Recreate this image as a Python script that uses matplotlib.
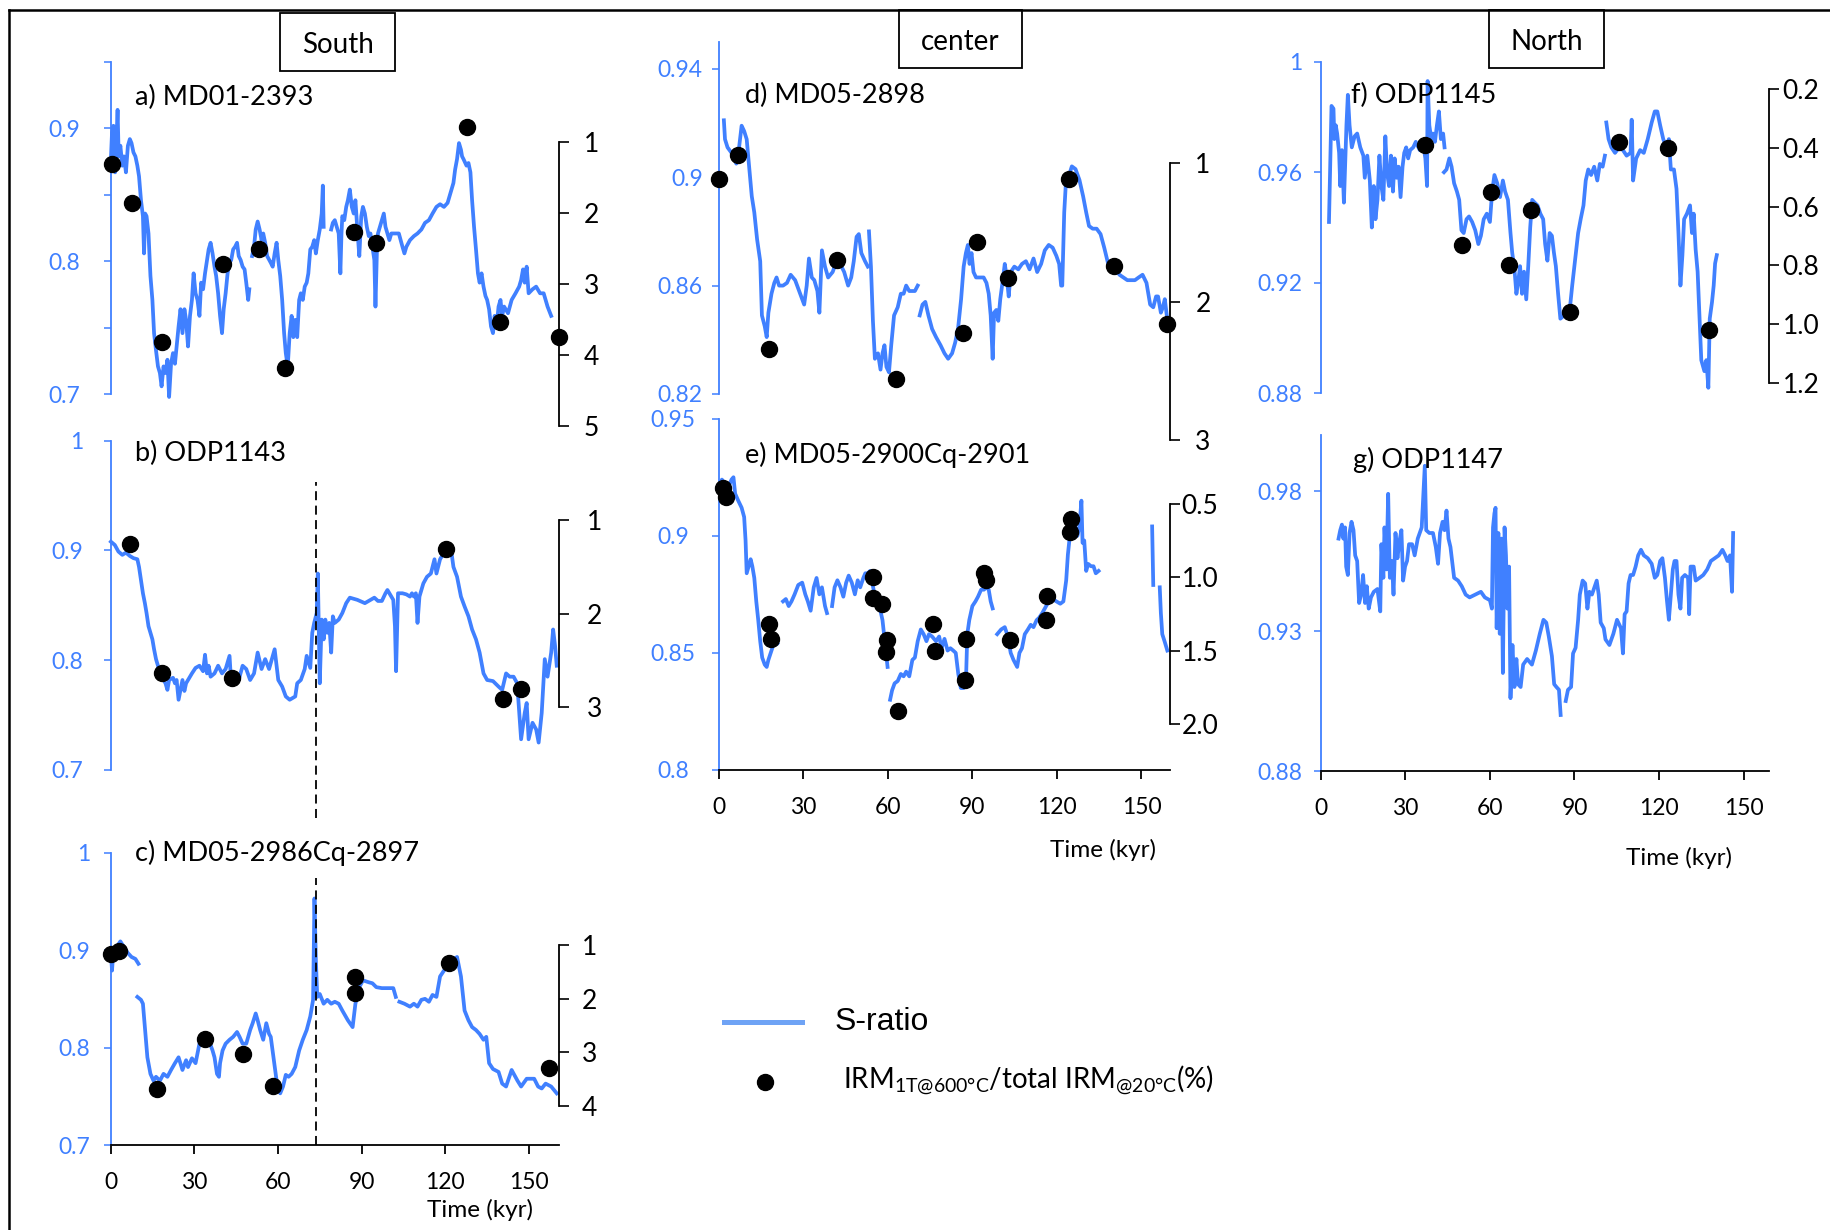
import numpy as np
import matplotlib
matplotlib.use("Agg")
import matplotlib.pyplot as plt
from matplotlib.lines import Line2D
from matplotlib.patches import Rectangle

plt.rcParams['font.family'] = ['Lato', 'DejaVu Sans']
plt.rcParams['mathtext.fontset'] = 'custom'
plt.rcParams['mathtext.rm'] = 'Lato'
plt.rcParams['mathtext.it'] = 'Lato'

W, H = 1831, 1230
BLUE = '#4080ff'
nan = np.nan

# S-ratio records (time kyr, S-ratio); nan = gap in the record
a_line = [(0.0, 0.877), (0.4, 0.897), (0.9, 0.902), (1.5, 0.867), (2.0, 0.892), (2.4, 0.914), (2.8, 0.879),
          (3.4, 0.887), (4.1, 0.872), (4.7, 0.879), (5.4, 0.867), (6.1, 0.887), (6.8, 0.892), (7.4, 0.889),
          (8.1, 0.882), (8.8, 0.879), (9.5, 0.872), (10.1, 0.864), (10.8, 0.846), (11.5, 0.834), (11.9, 0.806),
          (12.3, 0.836), (12.8, 0.834), (13.5, 0.821), (14.2, 0.789), (14.9, 0.771), (15.5, 0.746), (16.2, 0.733),
          (16.9, 0.721), (17.6, 0.716), (18.2, 0.706), (18.9, 0.721), (19.6, 0.716), (20.3, 0.726), (20.9, 0.698),
          (21.6, 0.723), (22.3, 0.731), (23.0, 0.723), (23.6, 0.736), (24.3, 0.751), (25.0, 0.764), (25.7, 0.746),
          (26.4, 0.764), (27.0, 0.756), (27.7, 0.736), (28.4, 0.759), (29.1, 0.771), (29.7, 0.791), (30.4, 0.776),
          (31.1, 0.771), (31.8, 0.759), (32.4, 0.784), (33.1, 0.779), (33.8, 0.791), (34.5, 0.801), (35.1, 0.809),
          (35.8, 0.814), (36.5, 0.806), (37.2, 0.796), (37.8, 0.789), (38.5, 0.776), (39.2, 0.759), (39.9, 0.746),
          (40.5, 0.764), (41.2, 0.776), (41.9, 0.791), (42.6, 0.799), (43.2, 0.801), (43.9, 0.809), (44.6, 0.811),
          (45.3, 0.814), (45.9, 0.804), (46.6, 0.801), (47.3, 0.796), (48.0, 0.794), (48.6, 0.784), (49.3, 0.771),
          (49.7, 0.779), (nan, nan), (50.7, 0.804), (51.4, 0.811), (52.0, 0.824), (52.7, 0.830), (53.4, 0.824),
          (54.1, 0.816), (54.7, 0.821), (55.4, 0.814), (56.1, 0.804), (57.4, 0.799), (58.1, 0.796), (58.8, 0.806),
          (59.5, 0.814), (60.1, 0.801), (60.8, 0.789), (61.5, 0.771), (62.2, 0.746), (62.8, 0.731), (63.5, 0.721),
          (64.2, 0.746), (64.9, 0.759), (65.5, 0.743), (66.2, 0.756), (66.9, 0.743), (67.6, 0.771), (68.2, 0.776),
          (68.9, 0.771), (69.6, 0.781), (70.3, 0.784), (70.9, 0.791), (71.6, 0.809), (72.3, 0.811), (73.0, 0.816),
          (73.6, 0.806), (74.3, 0.816), (75.0, 0.824), (75.7, 0.836), (76.1, 0.857), (76.4, 0.826), (nan, nan),
          (79.1, 0.824), (79.7, 0.829), (80.4, 0.831), (81.1, 0.826), (81.8, 0.821), (82.4, 0.791), (82.8, 0.821),
          (83.1, 0.834), (83.8, 0.831), (84.5, 0.841), (85.1, 0.846), (85.8, 0.854), (86.5, 0.841), (87.2, 0.836),
          (87.8, 0.846), (88.5, 0.824), (89.2, 0.804), (89.9, 0.834), (90.5, 0.841), (91.2, 0.836), (91.9, 0.826),
          (92.6, 0.819), (93.2, 0.821), (93.9, 0.811), (94.6, 0.801), (95.0, 0.766), (95.5, 0.806), (95.9, 0.821),
          (96.6, 0.826), (97.3, 0.831), (98.0, 0.836), (98.6, 0.826), (99.3, 0.821), (100.0, 0.816), (100.7, 0.821),
          (102.0, 0.821), (103.4, 0.821), (104.7, 0.811), (105.4, 0.806), (106.1, 0.811), (107.4, 0.816),
          (108.8, 0.819), (110.1, 0.821), (111.5, 0.824), (112.8, 0.829), (114.2, 0.831), (115.5, 0.836),
          (116.9, 0.841), (118.2, 0.843), (119.6, 0.841), (120.9, 0.844), (121.6, 0.849), (122.3, 0.854),
          (123.0, 0.859), (123.6, 0.869), (124.3, 0.877), (125.0, 0.889), (125.7, 0.884), (126.1, 0.879),
          (126.6, 0.877), (127.7, 0.872), (128.4, 0.874), (129.1, 0.867), (129.7, 0.846), (130.4, 0.826),
          (131.1, 0.809), (131.8, 0.791), (132.4, 0.784), (133.1, 0.791), (133.8, 0.781), (134.5, 0.774),
          (135.1, 0.771), (135.8, 0.764), (136.5, 0.751), (137.2, 0.746), (137.8, 0.759), (138.5, 0.751),
          (139.2, 0.766), (139.9, 0.771), (140.5, 0.759), (141.2, 0.766), (142.6, 0.761), (143.9, 0.771),
          (145.3, 0.776), (146.6, 0.781), (147.3, 0.786), (148.0, 0.794), (148.6, 0.784), (149.3, 0.796),
          (150.0, 0.776), (151.4, 0.779), (152.7, 0.781), (154.1, 0.776), (155.4, 0.776), (156.8, 0.766),
          (158.1, 0.759)]

b_line = [(0.0, 0.908), (1.4, 0.905), (2.7, 0.899), (4.1, 0.896), (5.4, 0.898), (6.8, 0.895), (8.1, 0.893),
          (9.5, 0.892), (10.1, 0.885), (10.8, 0.873), (11.5, 0.861), (12.2, 0.852), (12.8, 0.843), (13.5, 0.831),
          (14.2, 0.825), (14.9, 0.819), (15.5, 0.810), (16.2, 0.801), (16.9, 0.795), (17.6, 0.788), (18.2, 0.785),
          (19.6, 0.779), (20.3, 0.773), (20.9, 0.782), (22.3, 0.784), (23.0, 0.779), (23.6, 0.782), (24.3, 0.764),
          (25.0, 0.773), (25.7, 0.782), (26.4, 0.772), (27.0, 0.779), (27.7, 0.782), (29.1, 0.788), (30.4, 0.793),
          (31.8, 0.795), (33.1, 0.790), (33.8, 0.805), (34.5, 0.788), (35.1, 0.795), (35.8, 0.785), (37.2, 0.788),
          (38.5, 0.795), (39.9, 0.788), (41.2, 0.792), (42.6, 0.804), (43.2, 0.779), (44.6, 0.788), (45.9, 0.782),
          (47.3, 0.795), (48.6, 0.792), (50.0, 0.782), (51.4, 0.788), (52.7, 0.807), (54.1, 0.792), (55.4, 0.801),
          (56.8, 0.792), (58.8, 0.810), (60.1, 0.782), (61.5, 0.776), (62.8, 0.767), (64.2, 0.764), (66.2, 0.767),
          (66.9, 0.779), (68.2, 0.782), (69.6, 0.792), (70.3, 0.804), (71.6, 0.793), (72.3, 0.825), (73.0, 0.834),
          (73.9, 0.843), (74.3, 0.879), (75.0, 0.779), (75.7, 0.837), (76.4, 0.819), (77.0, 0.837), (77.7, 0.825),
          (78.4, 0.834), (79.1, 0.807), (79.7, 0.840), (80.4, 0.834), (81.8, 0.837), (83.1, 0.843), (84.5, 0.852),
          (85.8, 0.857), (88.5, 0.855), (91.2, 0.852), (93.2, 0.855), (94.6, 0.857), (95.9, 0.854), (97.3, 0.854),
          (98.6, 0.861), (99.3, 0.864), (100.7, 0.858), (101.4, 0.855), (102.0, 0.831), (102.4, 0.790),
          (103.1, 0.861), (104.7, 0.861), (106.1, 0.860), (107.4, 0.858), (108.1, 0.861), (108.8, 0.858),
          (109.5, 0.861), (110.1, 0.834), (110.8, 0.858), (112.2, 0.870), (113.5, 0.876), (114.9, 0.879),
          (116.2, 0.892), (116.9, 0.879), (118.2, 0.892), (119.6, 0.898), (120.9, 0.901), (122.3, 0.898),
          (123.0, 0.885), (124.3, 0.876), (125.7, 0.858), (127.0, 0.849), (128.4, 0.840), (129.7, 0.828),
          (131.1, 0.819), (132.4, 0.807), (133.8, 0.788), (135.1, 0.782), (137.2, 0.781), (139.2, 0.776),
          (140.5, 0.773), (141.9, 0.788), (143.2, 0.785), (144.6, 0.785), (145.9, 0.779), (147.3, 0.728),
          (148.6, 0.752), (149.3, 0.761), (150.0, 0.728), (151.4, 0.743), (152.7, 0.737), (153.6, 0.725),
          (154.7, 0.752), (155.8, 0.801), (156.8, 0.785), (158.1, 0.807), (158.8, 0.828), (159.5, 0.813),
          (160.1, 0.795)]

c_line = [(0.0, 0.897), (0.4, 0.879), (0.9, 0.900), (2.0, 0.903), (3.4, 0.909), (4.7, 0.903), (6.1, 0.897),
          (7.4, 0.893), (8.8, 0.891), (9.9, 0.886), (nan, nan), (9.5, 0.852), (10.8, 0.849), (11.5, 0.845),
          (12.2, 0.821), (13.1, 0.790), (14.2, 0.773), (15.3, 0.766), (16.2, 0.770), (17.6, 0.766), (18.9, 0.773),
          (20.3, 0.770), (21.6, 0.777), (23.0, 0.784), (24.3, 0.790), (25.7, 0.777), (27.0, 0.787), (27.7, 0.780),
          (29.1, 0.789), (30.4, 0.784), (31.8, 0.804), (32.4, 0.808), (33.8, 0.804), (35.1, 0.808), (36.5, 0.797),
          (37.2, 0.790), (38.1, 0.773), (38.8, 0.770), (39.2, 0.784), (40.1, 0.797), (41.2, 0.804), (42.6, 0.808),
          (43.9, 0.811), (45.3, 0.816), (46.2, 0.811), (47.3, 0.804), (48.6, 0.804), (50.0, 0.818), (50.9, 0.825),
          (52.0, 0.835), (52.7, 0.828), (53.6, 0.818), (54.7, 0.808), (55.8, 0.825), (56.8, 0.814), (57.4, 0.811),
          (58.5, 0.787), (59.5, 0.766), (60.8, 0.753), (61.8, 0.760), (62.8, 0.772), (63.8, 0.770), (64.9, 0.773),
          (66.2, 0.780), (67.6, 0.797), (68.9, 0.808), (70.3, 0.818), (71.6, 0.832), (72.6, 0.849), (73.1, 0.953),
          (73.6, 0.890), (74.1, 0.852), (75.0, 0.855), (76.4, 0.845), (77.7, 0.849), (79.1, 0.845), (80.4, 0.847),
          (81.8, 0.845), (83.1, 0.838), (85.1, 0.828), (86.8, 0.821), (87.8, 0.845), (89.2, 0.862), (90.5, 0.869),
          (92.6, 0.867), (93.9, 0.866), (95.3, 0.862), (97.3, 0.861), (99.3, 0.861), (101.4, 0.861),
          (102.3, 0.852), (nan, nan), (103.6, 0.847), (105.4, 0.845), (107.4, 0.842), (108.8, 0.845),
          (110.1, 0.842), (111.5, 0.849), (112.8, 0.850), (114.2, 0.847), (115.5, 0.854), (116.9, 0.852),
          (118.2, 0.873), (119.6, 0.879), (120.9, 0.883), (122.9, 0.890), (124.3, 0.893), (125.7, 0.873),
          (127.0, 0.838), (128.4, 0.828), (129.7, 0.821), (131.1, 0.818), (132.4, 0.814), (133.8, 0.808),
          (134.8, 0.811), (135.8, 0.784), (137.2, 0.778), (139.2, 0.775), (140.5, 0.763), (141.9, 0.760),
          (143.9, 0.777), (146.0, 0.766), (147.3, 0.760), (149.3, 0.768), (152.0, 0.768), (153.4, 0.760),
          (154.7, 0.758), (156.1, 0.763), (158.1, 0.760), (160.1, 0.753)]

d_line = [(1.8, 0.921), (2.2, 0.914), (3.1, 0.911), (4.5, 0.909), (5.4, 0.908), (6.2, 0.905), (7.2, 0.911),
          (8.1, 0.919), (9.0, 0.917), (9.9, 0.914), (10.6, 0.906), (11.7, 0.893), (12.6, 0.887), (13.6, 0.877),
          (14.7, 0.869), (15.3, 0.849), (16.3, 0.845), (17.0, 0.841), (17.6, 0.850), (18.7, 0.857), (19.7, 0.861),
          (20.5, 0.863), (21.4, 0.860), (22.8, 0.860), (24.2, 0.861), (25.5, 0.864), (27.1, 0.862), (28.9, 0.857),
          (30.3, 0.853), (31.2, 0.860), (32.0, 0.870), (33.0, 0.863), (33.9, 0.862), (35.0, 0.858), (35.7, 0.850),
          (36.6, 0.873), (37.7, 0.867), (38.8, 0.863), (40.4, 0.865), (41.8, 0.869), (43.1, 0.868), (44.5, 0.865),
          (45.9, 0.860), (47.0, 0.863), (47.9, 0.869), (48.9, 0.878), (49.7, 0.879), (50.6, 0.872), (51.9, 0.869),
          (52.9, 0.867), (nan, nan), (53.3, 0.880), (54.0, 0.867), (54.7, 0.847), (55.4, 0.833), (56.5, 0.835),
          (57.4, 0.829), (58.1, 0.835), (58.8, 0.838), (59.5, 0.830), (60.4, 0.828), (61.2, 0.838), (62.2, 0.849),
          (63.5, 0.852), (64.6, 0.857), (65.6, 0.857), (66.5, 0.860), (67.6, 0.858), (68.7, 0.858), (69.6, 0.858),
          (70.6, 0.860), (nan, nan), (71.3, 0.849), (72.3, 0.853), (73.3, 0.854), (74.4, 0.849), (75.7, 0.844),
          (77.1, 0.841), (78.7, 0.838), (80.1, 0.835), (81.4, 0.833), (82.8, 0.835), (83.9, 0.839), (84.9, 0.844),
          (86.0, 0.855), (86.9, 0.867), (87.7, 0.872), (88.4, 0.875), (89.0, 0.868), (89.7, 0.872), (90.4, 0.865),
          (91.3, 0.863), (92.7, 0.863), (94.0, 0.863), (95.0, 0.861), (95.8, 0.857), (96.5, 0.849), (97.2, 0.833),
          (97.7, 0.850), (98.5, 0.851), (99.2, 0.847), (99.9, 0.855), (100.8, 0.862), (101.5, 0.868),
          (102.2, 0.863), (102.9, 0.856), (103.6, 0.865), (104.9, 0.867), (106.3, 0.866), (107.6, 0.868),
          (109.0, 0.869), (110.3, 0.866), (111.7, 0.870), (113.0, 0.865), (114.4, 0.868), (115.7, 0.873),
          (117.1, 0.875), (118.5, 0.874), (119.8, 0.871), (120.8, 0.868), (121.5, 0.860), (121.9, 0.860),
          (122.6, 0.887), (123.3, 0.900), (124.4, 0.901), (125.3, 0.904), (126.6, 0.903), (128.0, 0.899),
          (129.3, 0.893), (130.4, 0.887), (131.4, 0.882), (132.7, 0.881), (134.1, 0.881), (135.5, 0.879),
          (136.8, 0.874), (138.2, 0.868), (139.5, 0.867), (140.9, 0.866), (142.2, 0.864), (143.6, 0.863),
          (145.0, 0.862), (146.3, 0.862), (147.7, 0.862), (149.0, 0.863), (150.4, 0.864), (151.8, 0.861),
          (153.1, 0.853), (154.2, 0.852), (155.2, 0.856), (155.9, 0.856), (156.9, 0.850), (157.6, 0.852),
          (158.3, 0.855), (159.0, 0.849)]

e_line = [(0.0, 0.921), (1.1, 0.924), (2.4, 0.922), (3.5, 0.921), (4.5, 0.924), (5.2, 0.925), (5.8, 0.918),
          (6.9, 0.915), (8.1, 0.912), (9.0, 0.908), (9.5, 0.898), (9.9, 0.884), (10.6, 0.887), (11.3, 0.890),
          (11.9, 0.887), (12.6, 0.882), (13.3, 0.872), (14.0, 0.864), (14.7, 0.855), (15.4, 0.848), (16.3, 0.845),
          (17.0, 0.844), (17.6, 0.847), (18.7, 0.851), (19.8, 0.855), (20.8, 0.854), (nan, nan), (22.8, 0.872),
          (23.8, 0.873), (24.8, 0.870), (25.8, 0.872), (26.9, 0.875), (28.2, 0.879), (29.6, 0.880), (30.7, 0.875),
          (31.6, 0.872), (32.6, 0.868), (33.7, 0.878), (34.7, 0.882), (35.7, 0.875), (36.6, 0.878), (37.7, 0.870),
          (38.4, 0.867), (nan, nan), (40.2, 0.870), (41.1, 0.878), (42.1, 0.881), (43.2, 0.878), (44.2, 0.874),
          (45.2, 0.880), (46.1, 0.883), (47.2, 0.880), (48.3, 0.875), (49.3, 0.881), (50.2, 0.878), (51.3, 0.882),
          (52.0, 0.884), (52.9, 0.884), (53.7, 0.885), (55.4, 0.874), (57.0, 0.870), (58.1, 0.864), (59.2, 0.852),
          (59.9, 0.844), (nan, nan), (60.8, 0.830), (61.5, 0.834), (62.4, 0.837), (63.5, 0.838), (64.6, 0.841),
          (65.6, 0.840), (66.5, 0.842), (67.6, 0.840), (68.7, 0.847), (69.6, 0.848), (70.6, 0.855), (71.7, 0.860),
          (72.7, 0.858), (73.7, 0.855), (74.6, 0.858), (75.7, 0.857), (77.1, 0.855), (78.2, 0.857), (79.1, 0.852),
          (80.1, 0.856), (81.2, 0.851), (82.2, 0.852), (83.2, 0.851), (84.1, 0.850), (85.0, 0.841), (85.9, 0.835),
          (86.9, 0.835), (87.7, 0.837), (88.2, 0.858), (88.9, 0.864), (90.0, 0.870), (91.1, 0.872), (92.0, 0.874),
          (93.1, 0.877), (94.1, 0.877), (95.0, 0.878), (95.8, 0.877), (96.5, 0.872), (97.2, 0.869), (nan, nan),
          (98.8, 0.858), (100.2, 0.860), (101.5, 0.861), (102.6, 0.857), (103.6, 0.850), (104.6, 0.847),
          (105.9, 0.844), (106.7, 0.850), (107.6, 0.852), (108.6, 0.858), (109.7, 0.860), (110.7, 0.862),
          (111.7, 0.861), (112.8, 0.864), (113.7, 0.865), (114.8, 0.867), (116.2, 0.870), (117.1, 0.872),
          (118.5, 0.873), (119.8, 0.872), (121.2, 0.871), (122.3, 0.872), (123.3, 0.881), (123.9, 0.892),
          (124.6, 0.900), (125.3, 0.904), (126.2, 0.905), (127.3, 0.900), (128.0, 0.904), (128.7, 0.915),
          (129.1, 0.897), (129.7, 0.898), (130.4, 0.885), (131.1, 0.888), (132.1, 0.887), (133.0, 0.887),
          (133.8, 0.884), (134.8, 0.885), (nan, nan), (153.8, 0.904), (154.2, 0.879), (nan, nan),
          (156.5, 0.878), (156.9, 0.867), (157.4, 0.858), (158.2, 0.855), (159.2, 0.851)]

f_line = [(2.9, 0.942), (3.4, 0.965), (3.8, 0.984), (4.5, 0.983), (4.8, 0.972), (5.3, 0.977), (5.8, 0.974),
          (6.5, 0.967), (6.9, 0.955), (7.5, 0.968), (8.2, 0.949), (8.6, 0.962), (9.1, 0.977), (9.6, 0.988),
          (10.2, 0.977), (11.0, 0.969), (12.0, 0.973), (12.9, 0.974), (14.0, 0.969), (15.1, 0.966), (15.6, 0.958),
          (16.5, 0.966), (17.4, 0.957), (18.1, 0.940), (18.8, 0.955), (19.4, 0.943), (20.1, 0.950), (20.8, 0.966),
          (21.5, 0.955), (22.2, 0.950), (22.9, 0.973), (23.5, 0.960), (24.2, 0.955), (24.9, 0.966), (25.6, 0.953),
          (26.2, 0.965), (26.9, 0.958), (27.6, 0.962), (28.3, 0.951), (29.0, 0.962), (29.6, 0.967), (30.3, 0.969),
          (31.0, 0.965), (31.7, 0.968), (32.8, 0.969), (33.7, 0.971), (35.1, 0.968), (36.2, 0.971), (37.1, 0.965),
          (37.7, 0.955), (37.9, 0.993), (38.5, 0.977), (39.2, 0.972), (39.8, 0.974), (40.5, 0.971), (41.2, 0.977),
          (41.9, 0.982), (42.6, 0.972), (43.4, 0.974), (43.9, 0.969), (nan, nan), (43.7, 0.960), (44.6, 0.961),
          (45.6, 0.965), (46.4, 0.962), (47.3, 0.956), (48.3, 0.953), (49.1, 0.950), (49.9, 0.939), (50.7, 0.938),
          (51.7, 0.943), (52.6, 0.944), (53.7, 0.942), (54.8, 0.939), (55.9, 0.934), (56.8, 0.937), (57.8, 0.943),
          (58.9, 0.945), (60.0, 0.942), (60.8, 0.953), (61.6, 0.959), (62.6, 0.956), (63.6, 0.951), (64.6, 0.957),
          (65.4, 0.953), (66.4, 0.950), (67.3, 0.938), (67.9, 0.931), (68.7, 0.925), (69.4, 0.916), (70.0, 0.920),
          (70.7, 0.926), (71.4, 0.916), (72.1, 0.924), (72.9, 0.914), (73.6, 0.926), (74.3, 0.940), (75.0, 0.950),
          (75.9, 0.949), (76.9, 0.948), (77.9, 0.945), (78.9, 0.943), (79.6, 0.934), (80.4, 0.928), (81.2, 0.938),
          (82.0, 0.937), (82.7, 0.931), (83.4, 0.926), (84.2, 0.916), (85.0, 0.907), (86.1, 0.908), (87.2, 0.909),
          (88.3, 0.910), (89.2, 0.919), (90.2, 0.928), (91.3, 0.938), (92.2, 0.943), (93.2, 0.948), (94.0, 0.957),
          (94.9, 0.961), (95.9, 0.959), (97.0, 0.962), (98.1, 0.957), (99.0, 0.963), (100.0, 0.962),
          (100.8, 0.966), (nan, nan), (101.3, 0.978), (102.1, 0.972), (103.1, 0.969), (104.4, 0.967),
          (105.8, 0.969), (107.2, 0.968), (108.5, 0.966), (109.9, 0.967), (110.3, 0.979), (110.8, 0.957),
          (111.9, 0.965), (113.3, 0.968), (114.6, 0.967), (116.0, 0.972), (117.4, 0.978), (118.5, 0.982),
          (119.4, 0.982), (120.4, 0.977), (121.5, 0.972), (122.6, 0.969), (123.5, 0.972), (124.2, 0.961),
          (125.3, 0.961), (126.2, 0.954), (126.9, 0.938), (127.6, 0.919), (128.3, 0.930), (128.9, 0.943),
          (129.9, 0.945), (131.0, 0.948), (131.7, 0.938), (132.3, 0.945), (133.0, 0.932), (133.7, 0.924),
          (134.4, 0.907), (135.0, 0.892), (136.1, 0.888), (136.8, 0.892), (137.5, 0.882), (138.0, 0.907),
          (138.8, 0.913), (139.4, 0.919), (139.9, 0.927), (140.5, 0.930)]

g_line = [(6.3, 0.963), (6.9, 0.966), (7.5, 0.968), (8.0, 0.963), (8.6, 0.967), (9.0, 0.953), (9.6, 0.950),
          (10.2, 0.965), (10.9, 0.969), (11.6, 0.966), (12.2, 0.957), (12.9, 0.955), (13.6, 0.940), (14.3, 0.943),
          (15.0, 0.950), (15.7, 0.940), (16.3, 0.946), (17.0, 0.938), (17.8, 0.942), (18.8, 0.944), (20.1, 0.945),
          (21.1, 0.937), (21.5, 0.961), (22.2, 0.949), (22.6, 0.967), (23.3, 0.952), (23.9, 0.979), (24.5, 0.949),
          (25.2, 0.955), (25.8, 0.943), (26.5, 0.965), (27.2, 0.956), (27.9, 0.962), (28.6, 0.966), (29.2, 0.948),
          (29.9, 0.953), (30.6, 0.955), (31.3, 0.961), (32.4, 0.961), (33.3, 0.957), (34.4, 0.963), (35.8, 0.967),
          (36.4, 0.979), (36.9, 0.989), (37.4, 0.966), (38.5, 0.965), (39.8, 0.965), (40.8, 0.960), (41.6, 0.954),
          (42.3, 0.965), (43.2, 0.969), (43.9, 0.966), (44.6, 0.973), (45.3, 0.963), (46.0, 0.960), (46.6, 0.955),
          (47.3, 0.949), (48.7, 0.948), (50.0, 0.946), (51.4, 0.943), (52.8, 0.942), (54.8, 0.943), (56.8, 0.944),
          (58.2, 0.942), (60.0, 0.941), (60.7, 0.938), (61.1, 0.967), (61.6, 0.972), (62.0, 0.974), (62.4, 0.931),
          (63.0, 0.965), (63.5, 0.929), (64.1, 0.963), (64.6, 0.915), (65.2, 0.967), (65.7, 0.957), (66.2, 0.938),
          (66.8, 0.953), (67.3, 0.906), (68.0, 0.925), (68.7, 0.910), (69.4, 0.920), (70.0, 0.911), (70.9, 0.910),
          (71.8, 0.918), (73.2, 0.920), (74.9, 0.918), (76.3, 0.923), (77.7, 0.929), (79.0, 0.934), (80.0, 0.933),
          (80.9, 0.928), (82.0, 0.921), (82.8, 0.911), (83.6, 0.910), (84.5, 0.909), (85.1, 0.900), (nan, nan),
          (86.9, 0.905), (87.7, 0.909), (88.8, 0.910), (89.5, 0.922), (90.4, 0.924), (91.3, 0.934), (91.9, 0.943),
          (92.9, 0.948), (93.8, 0.947), (94.6, 0.938), (95.3, 0.944), (96.2, 0.943), (97.2, 0.946), (97.9, 0.948),
          (98.6, 0.943), (99.3, 0.933), (100.4, 0.931), (101.0, 0.927), (102.4, 0.925), (103.8, 0.929),
          (105.1, 0.934), (106.5, 0.931), (107.2, 0.922), (107.8, 0.936), (108.5, 0.937), (109.2, 0.947),
          (109.9, 0.950), (110.8, 0.950), (111.7, 0.953), (112.6, 0.957), (113.6, 0.959), (114.6, 0.957),
          (116.0, 0.956), (117.4, 0.954), (118.5, 0.949), (119.4, 0.950), (120.4, 0.955), (121.2, 0.956),
          (122.1, 0.949), (122.8, 0.941), (123.5, 0.934), (124.2, 0.943), (124.9, 0.952), (125.5, 0.955),
          (126.2, 0.955), (126.9, 0.943), (127.6, 0.938), (128.2, 0.949), (129.2, 0.950), (130.3, 0.949),
          (130.7, 0.936), (131.2, 0.953), (132.3, 0.953), (133.0, 0.948), (134.4, 0.949), (135.7, 0.950),
          (137.1, 0.952), (138.4, 0.955), (139.8, 0.956), (141.2, 0.957), (142.5, 0.959), (143.5, 0.957),
          (144.3, 0.955), (145.2, 0.957), (145.9, 0.944), (146.3, 0.965)]

# IRM1T@600C / total IRM@20C (%) samples (time kyr, percent)
a_pts = [(0.4, 1.30), (7.4, 1.85), (18.5, 3.82), (40.1, 2.72), (53.3, 2.51), (62.5, 4.18), (87.2, 2.27),
         (95.3, 2.42), (127.9, 0.79), (139.8, 3.53), (161.0, 3.74)]
b_pts = [(6.8, 1.26), (18.2, 2.63), (43.6, 2.69), (120.5, 1.31), (140.9, 2.91), (147.4, 2.80)]
c_pts = [(0.0, 1.16), (3.0, 1.12), (16.6, 3.69), (33.8, 2.76), (47.6, 3.03), (58.1, 3.63), (87.6, 1.59),
         (87.6, 1.89), (121.4, 1.34), (157.4, 3.30)]
d_pts = [(0.0, 1.11), (6.7, 0.94), (17.9, 2.34), (42.1, 1.70), (62.8, 2.56), (86.6, 2.23), (91.7, 1.57),
         (102.5, 1.83), (124.2, 1.11), (140.1, 1.74), (159.2, 2.16)]
e_pts = [(1.4, 0.39), (2.4, 0.45), (17.8, 1.32), (18.7, 1.42), (54.7, 1.00), (54.7, 1.14), (57.8, 1.18),
         (59.7, 1.43), (59.4, 1.51), (63.5, 1.91), (76.0, 1.32), (76.8, 1.50), (87.5, 1.70), (87.9, 1.42),
         (94.2, 0.97), (94.7, 1.02), (103.2, 1.43), (116.4, 1.13), (116.2, 1.29), (124.9, 0.60), (124.6, 0.69)]
f_pts = [(37.1, 0.39), (50.0, 0.73), (60.5, 0.55), (66.6, 0.80), (74.7, 0.61), (88.3, 0.96), (105.7, 0.38),
         (123.2, 0.40), (137.6, 1.02)]

time_ticks = [0, 30, 60, 90, 120, 150]
event_age = 73.6  # dashed line in b and c

fig = plt.figure(figsize=(W / 100, H / 100), dpi=100)


def box(left, top, right, bottom):
    """axes placed by pixel edges of the 1831x1230 canvas"""
    return fig.add_axes([left / W, 1 - bottom / H, (right - left) / W, (bottom - top) / H])


def sratio_axes(rect, xmax, ylim, ticks, labels, pad, line, xaxis=False, ha='right'):
    ax = box(*rect)
    ax.set_xlim(0, xmax)
    ax.set_ylim(*ylim)
    ax.patch.set_visible(False)
    ax.spines['top'].set_visible(False)
    ax.spines['right'].set_visible(False)
    ax.spines['left'].set_color(BLUE)
    ax.spines['left'].set_linewidth(1.3)
    ax.set_yticks(ticks)
    ax.set_yticklabels(labels)
    ax.tick_params(axis='y', colors=BLUE, length=5, width=1.1, labelsize=16.5, pad=pad)
    for lab in ax.get_yticklabels():
        lab.set_ha(ha)
    if xaxis:
        ax.spines['bottom'].set_linewidth(1.3)
        ax.set_xticks(time_ticks)
        ax.tick_params(axis='x', length=6.5, width=1.3, labelsize=16.5, pad=13)
    else:
        ax.spines['bottom'].set_visible(False)
        ax.set_xticks([])
    t, v = np.array(line).T
    ax.plot(t, v, color=BLUE, lw=2.7, clip_on=False)
    return ax


def irm_axes(rect, xmax, ylim, ticks, labels, pad, pts):
    rx = box(*rect)
    rx.set_xlim(0, xmax)
    rx.set_ylim(*ylim)
    rx.patch.set_visible(False)
    for s in ('top', 'left', 'bottom'):
        rx.spines[s].set_visible(False)
    rx.spines['right'].set_linewidth(1.3)
    rx.set_xticks([])
    rx.yaxis.tick_right()
    rx.set_yticks(ticks)
    rx.set_yticklabels(labels)
    rx.tick_params(axis='y', length=7.5, width=1.2, labelsize=19, pad=pad)
    t, v = np.array(pts).T
    rx.plot(t, v, 'o', color='black', ms=11.5, clip_on=False, zorder=5)
    return rx


# column extents in pixels: left spine, right spine, and kyr at right spine
L1, R1, X1 = 110.9, 558.7, 160.8
L2, R2, X2 = 718.8, 1169.6, 160.0
L3, R3, X3 = 1320.8, 1769.5, 159.2

# South column
sratio_axes((L1, 62, R1, 394.3), X1, (0.7, 0.95), [0.7, 0.75, 0.8, 0.85, 0.9, 0.95],
            ['0.7', '', '0.8', '', '0.9', ''], 17, a_line)
irm_axes((L1, 142.3, R1, 426), X1, (5, 1), [1, 2, 3, 4, 5], ['1', '2', '3', '4', '5'], 10.5, a_pts)

ax_b = sratio_axes((L1, 440.7, R1, 770), X1, (0.7, 1.0), [0.7, 0.8, 0.9, 1.0],
                   ['0.7', '0.8', '0.9', '1'], 15, b_line)
irm_axes((L1, 520, R1, 707.3), X1, (3, 1), [1, 2, 3], ['1', '2', '3'], 13, b_pts)
ax_b.axvline(event_age, ymin=-0.146, ymax=0.876, color='black', lw=1.3, ls=(0, (5, 3)), clip_on=False)

ax_c = sratio_axes((L1, 852.7, R1, 1145), X1, (0.7, 1.0), [0.7, 0.8, 0.9, 1.0],
                   ['0.7', '0.8', '0.9', '1'], 10, c_line, xaxis=True)
irm_axes((L1, 945, R1, 1105.7), X1, (4, 1), [1, 2, 3, 4], ['1', '2', '3', '4'], 9, c_pts)
ax_c.axvline(event_age, ymin=0, ymax=0.913, color='black', lw=1.3, ls=(0, (5, 3)), clip_on=False)

# center column
sratio_axes((L2, 41.7, R2, 394), X2, (0.82, 0.95), [0.82, 0.86, 0.9, 0.94],
            ['0.82', '0.86', '0.9', '0.94'], 6.5, d_line)
irm_axes((L2, 163.3, R2, 440), X2, (3, 1), [1, 2, 3], ['1', '2', '3'], 11, d_pts)

sratio_axes((L2, 418.7, R2, 770), X2, (0.8, 0.95), [0.8, 0.85, 0.9, 0.95],
            ['0.8', '0.85', '0.9', '0.95'], 28, e_line, xaxis=True, ha='center')
irm_axes((L2, 504, R2, 724), X2, (2.0, 0.5), [0.5, 1.0, 1.5, 2.0], ['0.5', '1.0', '1.5', '2.0'], 1, e_pts)

# North column
sratio_axes((L3, 61.7, R3, 393.3), X3, (0.88, 1.0), [0.88, 0.92, 0.96, 1.0],
            ['0.88', '0.92', '0.96', '1'], 8, f_line)
irm_axes((L3, 89.3, R3, 382.7), X3, (1.2, 0.2), [0.2, 0.4, 0.6, 0.8, 1.0, 1.2],
         ['0.2', '0.4', '0.6', '0.8', '1.0', '1.2'], 2, f_pts)

sratio_axes((L3, 435, R3, 771), X3, (0.88, 1.0), [0.88, 0.93, 0.98],
            ['0.88', '0.93', '0.98'], 8.5, g_line, xaxis=True)

# panel titles
titles = [("a) MD01-2393", 135, 97), ("b) ODP1143", 135, 453), ("c) MD05-2986Cq-2897", 135, 853),
          ("d) MD05-2898", 745, 95), ("e) MD05-2900Cq-2901", 745, 455), ("f) ODP1145", 1351, 95),
          ("g) ODP1147", 1353, 460)]
for txt, x, y in titles:
    fig.text(x / W, 1 - y / H, txt, fontsize=19.5, ha='left', va='center')

for x, y in ((533, 1210), (1156, 850), (1732, 858)):
    fig.text(x / W, 1 - y / H, "Time (kyr)", fontsize=17.5, ha='right', va='center')

# column headers
for txt, x0, x1, y0 in (("South", 280.2, 395, 12.7), ("center", 899, 1022.3, 10),
                        ("North", 1488.7, 1604.5, 10)):
    fig.add_artist(Rectangle((x0 / W, 1 - (y0 + 58) / H), (x1 - x0) / W, 58 / H,
                             transform=fig.transFigure, fill=False, ec='black', lw=1.3))
    fig.text((x0 + x1) / 2 / W, 1 - (y0 + 32) / H, txt, fontsize=20, ha='center', va='center')

# outer frame (top and left only)
fig.add_artist(Line2D([9 / W, 1], [1 - 10 / H, 1 - 10 / H], transform=fig.transFigure, color='black', lw=1.8))
fig.add_artist(Line2D([9 / W, 9 / W], [0, 1 - 10 / H], transform=fig.transFigure, color='black', lw=1.8))

# legend
fig.add_artist(Line2D([724 / W, 802 / W], [1 - 1022 / H] * 2, transform=fig.transFigure,
                      color='#6fa3f5', lw=3.6))
fig.text(835 / W, 1 - 1022 / H, "S-ratio", fontsize=23, family='Liberation Sans', ha='left', va='center')
fig.add_artist(Line2D([765 / W], [1 - 1082 / H], transform=fig.transFigure, marker='o', ms=11.5,
                      color='black', lw=0))
fig.text(843 / W, 1 - 1080 / H, r'IRM$_{\mathrm{1T@600°C}}$/total IRM$_{\mathrm{@20°C}}$(%)',
         fontsize=20, ha='left', va='center')

fig.savefig("out.png", dpi=100)
